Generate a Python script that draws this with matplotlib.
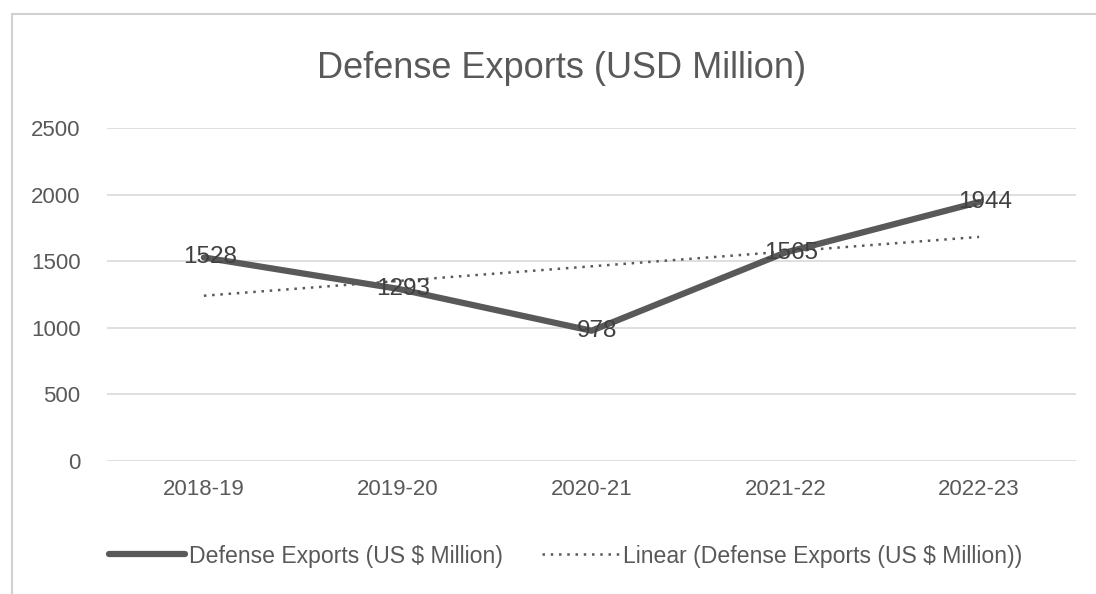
import matplotlib.pyplot as plt
from matplotlib.patches import Rectangle
from matplotlib.lines import Line2D
import numpy as np

years = ["2018-19", "2019-20", "2020-21", "2021-22", "2022-23"]
exports = [1528, 1293, 978, 1565, 1944]
yticks = [0, 500, 1000, 1500, 2000, 2500]

GRAY = "#595959"
plt.rcParams["font.family"] = ["Liberation Sans", "DejaVu Sans"]

W, H = 1096, 594
fig = plt.figure(figsize=(W / 100, H / 100), dpi=100)
ax = fig.add_axes([107 / W, 1 - 461 / H, (1076 - 107) / W, (461 - 128) / H])

# chart frame, cut off at the right and bottom
fig.patches.append(Rectangle((12 / W, -0.1), 1.2, 1 - 14 / H + 0.1,
                             transform=fig.transFigure, fill=False,
                             edgecolor="#d0d0d0", linewidth=1.5))

x = np.arange(len(years))
ax.plot(x, exports, color=GRAY, linewidth=4.5, solid_capstyle="round", zorder=3)

# linear trendline
slope, icpt = np.polyfit(x, exports, 1)
dots = (0, (1, 2.3))
ax.plot(x, slope * x + icpt, color=GRAY, linewidth=1.8, linestyle=dots, zorder=2)

for xi, v in zip(x, exports):
    ax.text(xi + 0.03, v, str(v), ha="center", va="center", fontsize=17.5,
            color="#404040", zorder=4)

ax.set_xlim(-0.5, len(years) - 0.5)
ax.set_ylim(0, 2500)
ax.set_yticks(yticks)
ax.set_xticks(x)
ax.set_xticklabels(years)
ax.grid(axis="y", color="#d9d9d9", linewidth=1.2)
ax.set_axisbelow(True)
for s in ax.spines.values():
    s.set_visible(False)
ax.tick_params(length=0, labelsize=16, labelcolor=GRAY)
ax.tick_params(axis="y", pad=19)
ax.tick_params(axis="x", pad=13)

fig.text(0.512, 1 - 68 / H, "Defense Exports (USD Million)", ha="center", va="center",
         fontsize=26, color=GRAY)

handles = [
    Line2D([], [], color=GRAY, linewidth=4.5, solid_capstyle="round"),
    Line2D([], [], color=GRAY, linewidth=1.8, linestyle=dots),
]
labels = ["Defense Exports (US $ Million)", "Linear (Defense Exports (US $ Million))"]
fig.legend(handles, labels, loc="center", bbox_to_anchor=(0.516, 1 - 556 / H),
           ncol=2, frameon=False, fontsize=16.6, labelcolor=GRAY,
           handlelength=3.3, handletextpad=0.2, columnspacing=1.7)

fig.savefig("out.png", dpi=100)
